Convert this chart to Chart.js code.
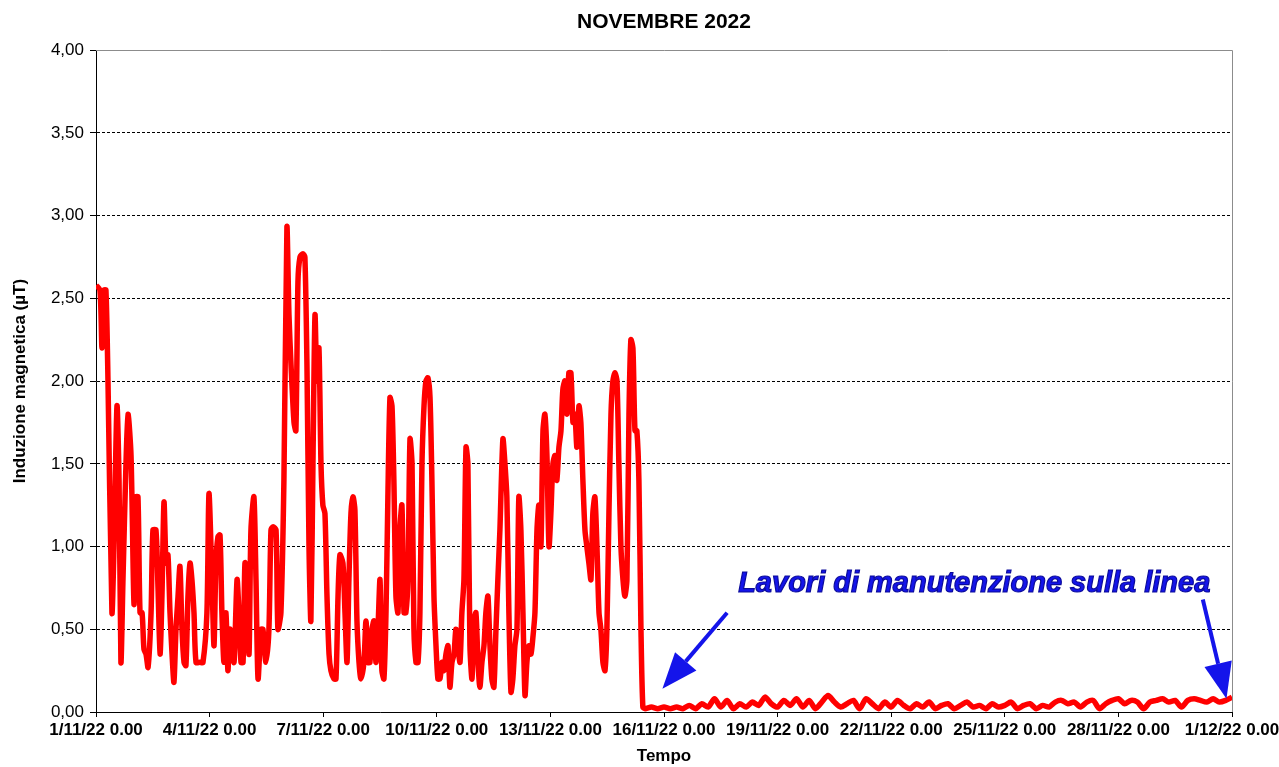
<!DOCTYPE html>
<html>
<head>
<meta charset="utf-8">
<script src="https://cdn.jsdelivr.net/npm/chart.js@4/dist/chart.umd.min.js"></script>
<style>
  html,body{margin:0;padding:0;background:#fff;}
  #wrap{width:1279px;height:767px;position:relative;}
</style>
</head>
<body>
<div id="wrap"><canvas id="c"></canvas></div>
<script>
// ---- DATA ----
const chartTitle = 'NOVEMBRE 2022';
const yTitle = 'Induzione magnetica (µT)';
const xTitle = 'Tempo';
const xTickLabels = ['1/11/22 0.00','4/11/22 0.00','7/11/22 0.00','10/11/22 0.00','13/11/22 0.00',
  '16/11/22 0.00','19/11/22 0.00','22/11/22 0.00','25/11/22 0.00','28/11/22 0.00','1/12/22 0.00'];
const xTickStepHours = 72;

// hours elapsed since 1/11/22 0.00 — period before maintenance
const oreA = [
  0, 2.5, 3.8, 5.1, 6.3, 7.6, 10.1, 11.4, 13.3, 14.6,
  15.8, 17.1, 19, 20.3, 22.2, 24.1, 25.3, 26.6, 27.9, 29.2,
  30.4, 31.7, 33, 34.9, 36.1, 38, 39.3, 40.6, 41.8, 43.1,
  44.4, 45.6, 46.9, 48.2, 49.4, 50.7, 52, 53.2, 54.5, 55.8,
  57, 58.3, 59.6, 60.8, 62.1, 63.4, 65.9, 67.8, 70.3, 71.6,
  73.5, 74.8, 76, 77.3, 78.6, 79.8, 81.1, 82.4, 83.6, 84.9,
  86.2, 87.5, 89.4, 90.6, 91.9, 93.2, 94.4, 95.7, 97, 98.2,
  100.1, 101.4, 102.7, 104.6, 105.8, 107.7, 109.6, 110.9, 112.2, 114.1,
  115.3, 117.2, 119.1, 121, 122.3, 123.6, 125.5, 126.7, 128, 129.3,
  131.2, 132.4, 133.7, 135, 136.2, 137.5, 138.8, 140, 141.3, 142.6,
  143.8, 145.1, 146.4, 147.7, 148.9, 150.8, 152.1, 153.4, 154.6, 156.5,
  157.8, 159.1, 160.3, 161.6, 162.9, 164.1, 165.4, 166.7, 167.9, 169.8,
  171.1, 172.4, 173.6, 174.9, 176.2, 177.4, 178.7, 180, 181.2, 182.5,
  183.8, 185, 186.3, 187.6, 188.8, 190.1, 191.4, 192.6, 193.9, 195.2,
  196.4, 197.7, 199, 200.3, 201.5, 202.8, 204.1, 205.3, 206.6, 207.9,
  209.1, 210.4, 211.7, 212.9, 214.2, 215.5, 216.7, 218, 219.3, 220.5,
  221.8, 223.1, 224.3, 225.6, 226.9, 228.1, 229.4, 230.7, 231.9, 233.2,
  234.5, 235.7, 237, 238.3, 239.5, 240.8, 242.1, 243.3, 244.6, 245.9,
  247.1, 248.4, 249.7, 250.9, 252.2, 253.5, 254.7, 256, 257.9, 259.2,
  260.4, 261.7, 263, 264.2, 265.5, 266.8, 268, 269.3, 270.6, 271.9,
  273.1, 274.4, 275.7, 276.9, 278.2, 279.5, 280.7, 282, 283.3, 284.5,
  285.8, 287.1, 288.3, 289.6, 290.9, 292.1, 293.4, 294.7, 295.9, 297.2,
  298.5, 299.7, 301, 302.3, 303.5, 304.8, 306.1, 307.3, 308.6, 309.9,
  311.1, 312.4, 313.7, 314.9, 316.2, 317.5, 318.8, 320, 321.3, 322.6,
  323.8, 325.1, 326.4, 327.6, 328.9, 330.2, 331.4, 332.7, 334, 335.2,
  336.5, 337.8, 339, 340.3, 341.6, 342.8, 344.1, 345.4, 346.6
];
const valoriA = [
  2.58, 2.55, 2.20, 2.55, 2.55, 2.00, 0.60, 1.00, 1.85, 1.40,
  0.30, 0.80, 1.50, 1.80, 1.55, 0.65, 1.30, 1.30, 0.60, 0.60,
  0.38, 0.35, 0.27, 0.60, 1.10, 1.10, 0.75, 0.35, 0.70, 1.27,
  0.90, 0.95, 0.60, 0.35, 0.18, 0.50, 0.70, 0.88, 0.50, 0.30,
  0.28, 0.70, 0.90, 0.80, 0.60, 0.30, 0.30, 0.30, 0.60, 1.32,
  0.80, 0.40, 0.90, 1.06, 1.07, 0.60, 0.30, 0.60, 0.25, 0.50,
  0.45, 0.30, 0.80, 0.60, 0.30, 0.30, 0.90, 0.70, 0.35, 1.10,
  1.30, 0.80, 0.20, 0.50, 0.50, 0.30, 0.50, 1.10, 1.12, 1.10,
  0.50, 0.60, 1.40, 2.93, 2.40, 2.10, 1.75, 1.70, 2.60, 2.75,
  2.77, 2.75, 2.10, 1.00, 0.55, 1.50, 2.40, 2.00, 2.20, 1.50,
  1.25, 1.20, 0.70, 0.35, 0.25, 0.20, 0.20, 0.70, 0.95, 0.90,
  0.60, 0.30, 0.80, 1.20, 1.30, 1.22, 0.55, 0.30, 0.20, 0.30,
  0.55, 0.30, 0.30, 0.50, 0.55, 0.30, 0.50, 0.80, 0.25, 0.20,
  0.60, 1.30, 1.90, 1.85, 1.40, 0.70, 0.60, 1.10, 1.25, 0.60,
  0.60, 0.80, 1.65, 1.50, 0.50, 0.30, 0.30, 0.60, 1.50, 1.85,
  2.00, 2.02, 1.90, 1.40, 0.70, 0.40, 0.20, 0.20, 0.30, 0.25,
  0.35, 0.40, 0.15, 0.30, 0.35, 0.50, 0.40, 0.30, 0.60, 0.80,
  1.60, 1.50, 0.40, 0.20, 0.55, 0.60, 0.30, 0.15, 0.30, 0.40,
  0.60, 0.70, 0.40, 0.20, 0.15, 0.50, 0.80, 1.10, 1.65, 1.50,
  1.30, 0.60, 0.12, 0.20, 0.40, 0.50, 1.30, 1.10, 0.60, 0.10,
  0.30, 0.40, 0.35, 0.45, 0.60, 1.10, 1.25, 1.00, 1.70, 1.80,
  1.55, 1.00, 1.20, 1.50, 1.55, 1.40, 1.60, 1.70, 1.95, 2.00,
  1.80, 2.05, 2.05, 1.75, 1.80, 1.60, 1.85, 1.75, 1.40, 1.10,
  1.00, 0.90, 0.80, 1.20, 1.30, 1.00, 0.60, 0.50, 0.30, 0.25,
  0.50, 1.20, 1.80, 2.00, 2.05, 2.00, 1.50, 1.00, 0.80, 0.70,
  0.80, 1.80, 2.25, 2.20, 1.70, 1.70, 1.40, 0.50, 0.03
];
// period after maintenance works
const oreB = [
  348, 352, 356, 360, 364, 368, 372, 376, 380, 384,
  388, 392, 396, 400, 404, 408, 412, 416, 420, 424,
  428, 432, 436, 440, 444, 448, 452, 456, 460, 464,
  468, 472, 476, 480, 484, 488, 492, 496, 500, 504,
  508, 512, 516, 520, 524, 528, 532, 536, 540, 544,
  548, 552, 556, 560, 564, 568, 572, 576, 580, 584,
  588, 592, 596, 600, 604, 608, 612, 616, 620, 624,
  628, 632, 636, 640, 644, 648, 652, 656, 660, 664,
  668, 672, 676, 680, 684, 688, 692, 696, 700, 704,
  708, 712, 716, 720
];
const valoriB = [
  0.02, 0.03, 0.02, 0.03, 0.02, 0.03, 0.02, 0.04, 0.02, 0.05,
  0.03, 0.08, 0.03, 0.07, 0.02, 0.05, 0.03, 0.06, 0.04, 0.09,
  0.05, 0.03, 0.07, 0.04, 0.08, 0.03, 0.07, 0.02, 0.06, 0.10,
  0.06, 0.03, 0.05, 0.07, 0.02, 0.08, 0.05, 0.02, 0.06, 0.03,
  0.07, 0.04, 0.02, 0.05, 0.03, 0.06, 0.02, 0.04, 0.05, 0.02,
  0.04, 0.06, 0.03, 0.04, 0.02, 0.05, 0.03, 0.04, 0.06, 0.02,
  0.04, 0.05, 0.02, 0.04, 0.03, 0.06, 0.07, 0.05, 0.06, 0.03,
  0.06, 0.07, 0.02, 0.05, 0.07, 0.08, 0.05, 0.07, 0.06, 0.02,
  0.06, 0.07, 0.08, 0.06, 0.07, 0.03, 0.07, 0.08, 0.07, 0.06,
  0.08, 0.06, 0.07, 0.09
];

// annotation (in data units: hours, µT)
const noteText = 'Lavori di manutenzione sulla linea';
const noteAnchor = [407, 0.725];
const noteArrows = [
  [400, 0.60, 359, 0.14],
  [701.5, 0.68, 716.5, 0.08]
];

// ---- BUILD ----
const punti = oreA.map((h,i)=>({x:h, y:valoriA[i]}))
  .concat(oreB.map((h,i)=>({x:h, y:valoriB[i]})));

const SANS = '"Liberation Sans", Arial, sans-serif';

const framePlugin = {
  id:'frame',
  beforeDatasetsDraw(chart){
    const {ctx, chartArea:a} = chart;
    ctx.save();
    ctx.strokeStyle = '#8c8c8c';
    ctx.lineWidth = 1;
    ctx.setLineDash([]);
    ctx.beginPath();
    ctx.moveTo(a.left, Math.round(a.top)+0.5);
    ctx.lineTo(Math.round(a.right)+0.5, Math.round(a.top)+0.5);
    ctx.lineTo(Math.round(a.right)+0.5, a.bottom);
    ctx.stroke();
    ctx.restore();
  }
};

function drawArrow(ctx, x0, y0, x1, y1, headLen, headHalf){
  const ang = Math.atan2(y1-y0, x1-x0);
  const bx = x1 - headLen*Math.cos(ang), by = y1 - headLen*Math.sin(ang);
  ctx.beginPath();
  ctx.moveTo(x0, y0);
  ctx.lineTo(bx, by);
  ctx.stroke();
  ctx.beginPath();
  ctx.moveTo(x1, y1);
  ctx.lineTo(bx + headHalf*Math.sin(ang), by - headHalf*Math.cos(ang));
  ctx.lineTo(bx - headHalf*Math.sin(ang), by + headHalf*Math.cos(ang));
  ctx.closePath();
  ctx.fill();
}

const notePlugin = {
  id:'note',
  afterDatasetsDraw(chart){
    const {ctx, scales:{x, y}} = chart;
    ctx.save();
    ctx.setLineDash([]);
    ctx.fillStyle = '#1414ea';
    ctx.strokeStyle = '#1414ea';
    ctx.lineWidth = 4;
    ctx.lineCap = 'butt';
    noteArrows.forEach(([h0,v0,h1,v1])=>{
      drawArrow(ctx, x.getPixelForValue(h0), y.getPixelForValue(v0),
                x.getPixelForValue(h1), y.getPixelForValue(v1), 36, 14);
    });
    ctx.font = 'italic bold 29px ' + SANS;
    ctx.textBaseline = 'alphabetic';
    ctx.textAlign = 'left';
    ctx.lineWidth = 1.2;
    ctx.strokeStyle = '#0a0a9a';
    const tx = x.getPixelForValue(noteAnchor[0]), ty = y.getPixelForValue(noteAnchor[1]);
    ctx.fillText(noteText, tx, ty);
    ctx.strokeText(noteText, tx, ty);
    ctx.restore();
  }
};

new Chart(document.getElementById('c'), {
  type:'line',
  data:{
    datasets:[{
      data:punti,
      borderColor:'#ff0000',
      backgroundColor:'#ff0000',
      borderWidth:5.5,
      pointRadius:0,
      tension:0.25,
      fill:false
    }]
  },
  options:{
    responsive:true,
    maintainAspectRatio:false,
    animation:false,
    layout:{padding:{left:0, right:47, top:0, bottom:0}},
    plugins:{
      legend:{display:false},
      tooltip:{enabled:false},
      title:{
        display:true,
        fullSize:false,
        text:chartTitle,
        color:'#000',
        font:{family:SANS, size:21, weight:'bold', lineHeight:1.2},
        padding:{top:10, bottom:15}
      }
    },
    scales:{
      x:{
        type:'linear',
        min:0, max:720,
        afterFit(s){ s.height = 55; s.paddingLeft = 0; s.paddingRight = 0; },
        border:{display:true, color:'#000', width:1},
        grid:{drawOnChartArea:false, drawTicks:true, tickLength:5, tickColor:'#000'},
        ticks:{
          stepSize:xTickStepHours,
          autoSkip:false,
          maxRotation:0,
          padding:3,
          color:'#000',
          font:{family:SANS, size:17, weight:'bold'},
          callback:(v)=> xTickLabels[Math.round(v/xTickStepHours)]
        },
        title:{
          display:true, text:xTitle, color:'#000',
          font:{family:SANS, size:17, weight:'bold', lineHeight:1.2},
          padding:{top:0, bottom:0}
        }
      },
      y:{
        min:0, max:4,
        afterFit(s){ s.width = 96; },
        border:{display:true, color:'#000', width:1, dash:[3,2]},
        grid:{
          drawOnChartArea:true,
          color:(c)=> (c.tick && c.tick.value === 4) ? 'rgba(0,0,0,0)' : '#000',
          lineWidth:1,
          drawTicks:true, tickLength:6, tickColor:'#000', tickBorderDash:[]
        },
        ticks:{
          stepSize:0.5,
          padding:6,
          color:'#000',
          font:{family:SANS, size:17},
          callback:(v)=> v.toFixed(2).replace('.', ',')
        },
        title:{
          display:true, text:yTitle, color:'#000',
          font:{family:SANS, size:17, weight:'bold', lineHeight:1.2},
          padding:{top:10, bottom:0}
        }
      }
    }
  },
  plugins:[framePlugin, notePlugin]
});
</script>
</body>
</html>
